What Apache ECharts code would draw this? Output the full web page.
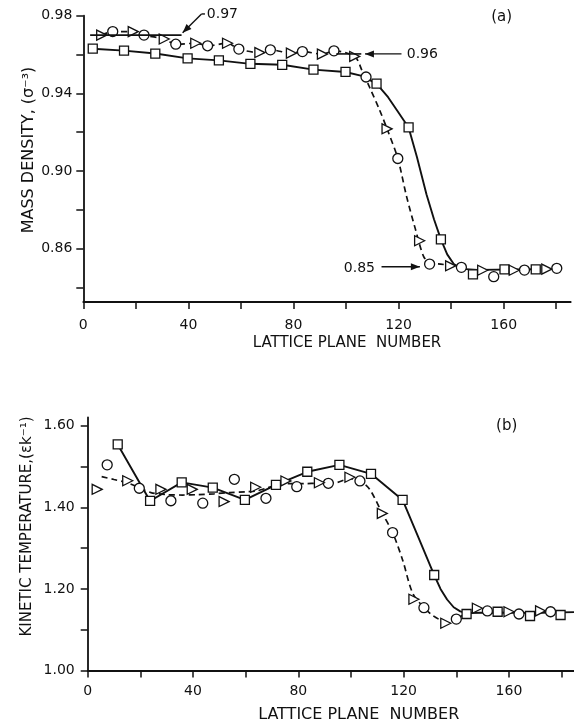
<!DOCTYPE html>
<html><head><meta charset="utf-8">
<script src="https://cdn.jsdelivr.net/npm/echarts@6/dist/echarts.min.js"></script>
<style>html,body{margin:0;padding:0;background:#fff}#c{width:574px;height:724px}</style>
</head><body><div id="c"></div>
<script>
// ---- axes ----
const xTicks = [0, 20, 40, 60, 80, 100, 120, 140, 160, 180];
const xLabels = [0, 40, 80, 120, 160];
const densityTicks = [0.84, 0.86, 0.88, 0.90, 0.92, 0.94, 0.96, 0.98];
const densityLabels = [0.86, 0.90, 0.94, 0.98];
const tempTicks = [1.0, 1.1, 1.2, 1.3, 1.4, 1.5, 1.6];
const tempLabels = [1.0, 1.2, 1.4, 1.6];

// ---- (a) mass density ----
const densitySquareX = [3.6, 15.5, 27.4, 39.7, 51.6, 63.6, 75.7, 87.6, 99.8, 111.6, 123.8, 136.1, 148.3, 160.3, 172.2];
const densitySquare  = [0.963, 0.962, 0.9605, 0.958, 0.957, 0.9552, 0.9547, 0.9522, 0.951, 0.945, 0.9224, 0.8647, 0.8467, 0.8493, 0.8493];
const densityCircleX = [11.2, 23.1, 35.2, 47.3, 59.2, 71.2, 83.4, 95.4, 107.6, 119.7, 131.8, 143.9, 156.2, 167.9, 180.2];
const densityCircle  = [0.9718, 0.970, 0.9653, 0.9645, 0.9628, 0.9624, 0.9615, 0.9619, 0.9484, 0.9064, 0.852, 0.8503, 0.8455, 0.8489, 0.8498];
const densityTriangleX = [7, 19, 30.8, 42.8, 54.9, 67.2, 79.2, 91, 103.3, 115.6, 128, 139.8, 152, 164, 176.4];
const densityTriangle  = [0.970, 0.9718, 0.968, 0.9658, 0.9658, 0.961, 0.9607, 0.9602, 0.959, 0.9217, 0.864, 0.8511, 0.8488, 0.8488, 0.8494];
const densitySolidX = [3.6, 15.5, 27.4, 39.7, 51.6, 63.6, 75.7, 87.6, 99.8, 106, 111.6, 116, 119.5, 123.8, 127, 130.6, 133.5, 136.1, 138.5, 141, 144, 150, 172.2];
const densitySolid  = [0.963, 0.962, 0.9605, 0.958, 0.957, 0.9552, 0.9547, 0.9522, 0.951, 0.949, 0.945, 0.938, 0.931, 0.9224, 0.907, 0.888, 0.875, 0.8647, 0.857, 0.852, 0.8495, 0.849, 0.8493];
const densityDashedX = [7, 11.2, 19, 23.1, 30.8, 35.2, 42.8, 47.3, 54.9, 59.2, 67.2, 71.2, 79.2, 83.4, 91, 95.4, 103.3, 106, 109, 112.7, 115.6, 119.7, 123, 126.4, 129.5, 132, 136, 139.8, 142.5];
const densityDashed  = [0.970, 0.9718, 0.9718, 0.970, 0.968, 0.9653, 0.9658, 0.9645, 0.9658, 0.9628, 0.961, 0.9624, 0.9607, 0.9615, 0.9602, 0.9619, 0.959, 0.952, 0.943, 0.9316, 0.9217, 0.9064, 0.887, 0.870, 0.856, 0.8525, 0.852, 0.8511, 0.8495];

// ---- (b) kinetic temperature ----
const tempSquareX = [11.4, 23.7, 35.7, 47.5, 59.7, 71.5, 83.4, 95.6, 107.6, 119.6, 131.6, 143.9, 155.7, 168, 179.6];
const tempSquare  = [1.554, 1.4155, 1.461, 1.448, 1.418, 1.455, 1.487, 1.504, 1.482, 1.418, 1.234, 1.1385, 1.144, 1.1336, 1.136];
const tempCircleX = [7.4, 19.6, 31.6, 43.7, 55.7, 67.7, 79.4, 91.4, 103.4, 115.8, 127.7, 140, 151.8, 163.8, 175.8];
const tempCircle  = [1.504, 1.4466, 1.416, 1.41, 1.4686, 1.422, 1.4505, 1.4588, 1.4645, 1.338, 1.154, 1.126, 1.146, 1.1385, 1.144];
const tempTriangleX = [3.6, 15.2, 27.8, 39.7, 51.8, 63.8, 75.3, 88, 99.6, 111.9, 123.9, 136, 148, 160, 172];
const tempTriangle  = [1.444, 1.465, 1.444, 1.444, 1.414, 1.449, 1.4645, 1.460, 1.4735, 1.385, 1.1745, 1.1157, 1.1525, 1.144, 1.146];
const tempSolidX = [11.4, 23.7, 35.7, 47.5, 59.7, 71.5, 83.4, 95.6, 107.6, 119.6, 125.6, 131.6, 134, 136.5, 139, 141.5, 144, 155.7, 168, 184.7];
const tempSolid  = [1.554, 1.4155, 1.461, 1.448, 1.418, 1.455, 1.487, 1.504, 1.482, 1.418, 1.326, 1.234, 1.2, 1.174, 1.155, 1.145, 1.141, 1.142, 1.141, 1.143];
const tempDashedX = [5.3, 10, 15, 20, 24, 30, 36, 42, 48, 54, 60, 64, 68, 72, 76, 82, 88, 94, 99.6, 103.4, 107, 111.9, 115.8, 119.6, 123.4, 127.7, 131, 134.5, 137, 140, 143.5];
const tempDashed  = [1.475, 1.468, 1.460, 1.447, 1.436, 1.431, 1.430, 1.431, 1.433, 1.436, 1.438, 1.440, 1.447, 1.455, 1.458, 1.458, 1.459, 1.460, 1.470, 1.465, 1.445, 1.385, 1.338, 1.271, 1.19, 1.154, 1.135, 1.122, 1.118, 1.126, 1.140];

// ---- annotation labels ----
const refLabels = ['0.97', '0.96', '0.85'];

const FONT = 'DejaVu Sans';
const INK = '#111';
function pairs(xs, ys) { return xs.map((x, i) => [x, ys[i]]); }

function xAxisDef(grid, max, margin) {
  return {
    gridIndex: grid, type: 'value', min: 0, max: max,
    axisLine: { show: true, onZero: false, lineStyle: { color: INK, width: 1.8 } },
    axisTick: { show: true, customValues: xTicks, length: 7, lineStyle: { color: INK, width: 1.5 } },
    axisLabel: { customValues: xLabels, margin: margin, color: INK, fontFamily: FONT, fontSize: 14 },
    splitLine: { show: false }
  };
}
function yAxisDef(grid, min, max, ticks, labels, margin) {
  return {
    gridIndex: grid, type: 'value', min: min, max: max,
    axisLine: { show: true, onZero: false, lineStyle: { color: INK, width: 1.8 } },
    axisTick: { show: true, customValues: ticks, length: 7, lineStyle: { color: INK, width: 1.5 } },
    axisLabel: { customValues: labels, margin: margin, color: INK, fontFamily: FONT, fontSize: 14,
                 formatter: v => Number(v).toFixed(2) },
    splitLine: { show: false }
  };
}
function lineSeries(grid, xs, ys, dashed, smooth) {
  return {
    type: 'line', xAxisIndex: grid, yAxisIndex: grid, data: pairs(xs, ys),
    showSymbol: false, symbol: 'none', smooth: smooth, z: 2,
    lineStyle: { color: INK, width: dashed ? 1.7 : 1.9, type: dashed ? [6, 4] : 'solid' },
    silent: true
  };
}
function markSeries(grid, xs, ys, symbol, size, rotate) {
  return {
    type: 'scatter', xAxisIndex: grid, yAxisIndex: grid, data: pairs(xs, ys),
    symbol: symbol, symbolSize: size, symbolRotate: rotate || 0, z: 3,
    itemStyle: { color: '#fff', borderColor: INK, borderWidth: 1.3, opacity: 1 },
    silent: true
  };
}

const chart = echarts.init(document.getElementById('c'));
chart.setOption({
  animation: false,
  backgroundColor: '#fff',
  grid: [
    { left: 83.3, top: 15.7, width: 487.4, height: 286.2 },
    { left: 87.7, top: 417.5, width: 486.3, height: 253 }
  ],
  xAxis: [xAxisDef(0, 185.5, 16), xAxisDef(1, 184.7, 14)],
  yAxis: [
    yAxisDef(0, 0.8325, 0.98, densityTicks, densityLabels, 11),
    yAxisDef(1, 1.0, 1.62, tempTicks, tempLabels, 13)
  ],
  series: [
    lineSeries(0, densitySolidX, densitySolid, false, false),
    lineSeries(0, densityDashedX, densityDashed, true, 0.3),
    markSeries(0, densitySquareX, densitySquare, 'rect', 9),
    markSeries(0, densityCircleX, densityCircle, 'circle', 10),
    markSeries(0, densityTriangleX, densityTriangle, 'triangle', 10, -90),
    lineSeries(1, tempSolidX, tempSolid, false, false),
    lineSeries(1, tempDashedX, tempDashed, true, 0.3),
    markSeries(1, tempSquareX, tempSquare, 'rect', 9),
    markSeries(1, tempCircleX, tempCircle, 'circle', 10),
    markSeries(1, tempTriangleX, tempTriangle, 'triangle', 10, -90)
  ]
});

// ---- annotations (positioned through the axes) ----
function px(p) { return chart.convertToPixel({ gridIndex: 0 }, p); }
function seg(a, b, w) {
  return { type: 'line', shape: { x1: a[0], y1: a[1], x2: b[0], y2: b[1] }, style: { stroke: INK, lineWidth: w || 1.5 }, z: 10, silent: true };
}
function head(from, tip) {
  const dx = tip[0] - from[0], dy = tip[1] - from[1];
  const L = Math.hypot(dx, dy), ux = dx / L, uy = dy / L;
  const len = 9, hw = 3.5;
  const bx = tip[0] - ux * len, by = tip[1] - uy * len;
  return { type: 'polygon', shape: { points: [tip, [bx - uy * hw, by + ux * hw], [bx + uy * hw, by - ux * hw]] },
           style: { fill: INK }, z: 10, silent: true };
}
function txt(p, s, align, size, rot) {
  return { type: 'text', x: p[0], y: p[1], rotation: rot || 0, z: 10, silent: true,
           style: { text: s, fill: INK, fontFamily: FONT, fontSize: size || 14,
                    align: align || 'left', verticalAlign: 'middle' } };
}

const g = [];
// 0.97
const a97 = px([2.6, 0.970]), b97 = px([37.4, 0.970]);
g.push(seg(a97, b97, 1.6));
const s97 = px([46.3, 0.9809]), k97 = px([45.0, 0.9809]), t97 = px([37.8, 0.9712]);
g.push(seg(s97, k97, 1.4), seg(k97, t97, 1.4), head(k97, t97));
g.push(txt(px([47.0, 0.9809]), refLabels[0], 'left', 14));
// 0.96
g.push(seg(px([96.3, 0.9603]), px([105.8, 0.9603]), 1.6));
const f96 = px([121.1, 0.9603]), t96 = px([107.2, 0.9603]);
g.push(seg(f96, t96, 1.4), head(f96, t96));
g.push(txt(px([123.1, 0.9603]), refLabels[1], 'left', 14));
// 0.85
const f85 = px([113.5, 0.8506]), t85 = px([128.1, 0.8506]);
g.push(seg(f85, t85, 1.4), head(f85, t85));
g.push(txt(px([111.0, 0.8498]), refLabels[2], 'right', 14));

// panel letters and axis titles
g.push(txt([501.7, 16.7], '(a)', 'center', 15));
g.push(txt([506.7, 426], '(b)', 'center', 15));
g.push(txt([347, 342.7], 'LATTICE PLANE  NUMBER', 'center', 15));
g.push(txt([358.7, 715], 'LATTICE PLANE  NUMBER', 'center', 16));
g.push(txt([29, 150], 'MASS DENSITY, (σ⁻³)', 'center', 16, Math.PI / 2));
g.push(txt([27, 526.5], 'KINETIC TEMPERATURE,(εk⁻¹)', 'center', 15, Math.PI / 2));

chart.setOption({ graphic: g });
</script>
</body></html>
